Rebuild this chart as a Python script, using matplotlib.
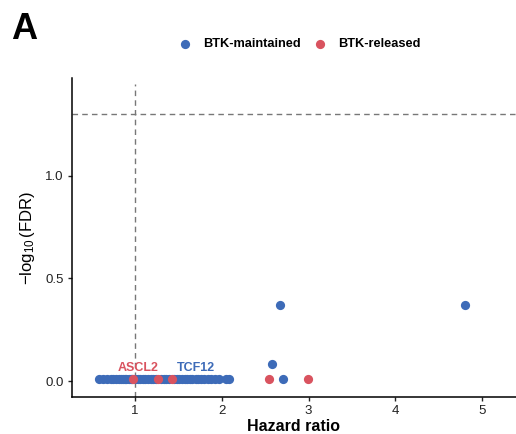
import numpy as np
import matplotlib.pyplot as plt

plt.rcParams['font.family'] = ['Liberation Sans', 'DejaVu Sans']
plt.rcParams['mathtext.fontset'] = 'custom'
plt.rcParams['mathtext.rm'] = 'Liberation Sans'
plt.rcParams['mathtext.it'] = 'Liberation Sans:italic'

# hazard ratio / -log10(FDR) per gene
maintained_hr = [0.58, 0.63, 0.68, 0.72, 0.75, 0.78, 0.81, 0.84, 0.86, 0.88,
                 0.90, 0.93, 0.95, 0.97, 1.00, 1.03, 1.06, 1.09, 1.12, 1.15,
                 1.18, 1.21, 1.24, 1.30, 1.33, 1.36, 1.39, 1.45, 1.48, 1.51,
                 1.54, 1.57, 1.60, 1.63, 1.66, 1.70, 1.73, 1.76, 1.80, 1.84,
                 1.88, 1.92, 1.97, 2.05, 2.08, 2.58, 2.67, 2.70, 4.80]
maintained_fdr = [0.008] * 45 + [0.085, 0.371, 0.008, 0.371]
released_hr = [0.98, 1.27, 1.42, 2.54, 2.99]
released_fdr = [0.008, 0.008, 0.008, 0.008, 0.008]

labels = ['ASCL2', 'TCF12']
label_hr = [1.03, 1.70]
label_fdr = [0.008, 0.008]
label_colors = ['#D9535F', '#3D6BB8']

blue = '#3D6BB8'
red = '#D9535F'

fig = plt.figure(figsize=(5.16, 4.34), dpi=100)
ax = fig.add_axes([0.139, 0.085, 0.861, 0.735])

ax.scatter(maintained_hr, maintained_fdr, s=44, color=blue, linewidths=0,
           label='BTK-maintained', zorder=3)
ax.scatter(released_hr, released_fdr, s=44, color=red, linewidths=0,
           label='BTK-released', zorder=3)

ax.axhline(-np.log10(0.05), color='#777777', ls=(0, (4, 3)), lw=1, zorder=1)
ax.axvline(1, color='#777777', ls=(0, (4, 3)), lw=1, ymax=0.981, zorder=1)

for lab, x, y, c in zip(labels, label_hr, label_fdr, label_colors):
    ax.text(x, y + 0.025, lab, color=c, fontsize=9, fontweight='bold',
            ha='center', va='bottom', zorder=4)

ax.set_xlim(0.27, 5.39)
ax.set_ylim(-0.078, 1.474)
ax.set_xticks([1, 2, 3, 4, 5])
ax.set_yticks([0.0, 0.5, 1.0])
ax.set_yticklabels(['0.0', '0.5', '1.0'])
ax.tick_params(labelsize=9.5, colors='#222222', length=3, width=1, pad=3)
for s in ['top', 'right']:
    ax.spines[s].set_visible(False)
for s in ['left', 'bottom']:
    ax.spines[s].set_linewidth(1.1)

ax.set_xlabel('Hazard ratio', fontsize=11.5, fontweight='bold', labelpad=1)
ax.set_ylabel(r'$-\log_{10}$(FDR)', fontsize=12, labelpad=6)

fig.legend(loc='center', bbox_to_anchor=(0.575, 0.898), ncol=2,
           frameon=False, prop={'size': 9.2, 'weight': 'bold'},
           handletextpad=0.4, columnspacing=0.5, markerscale=1.0)
fig.text(0.022, 0.972, 'A', fontsize=26, fontweight='bold', va='top')

fig.savefig('out.png', dpi=100)
